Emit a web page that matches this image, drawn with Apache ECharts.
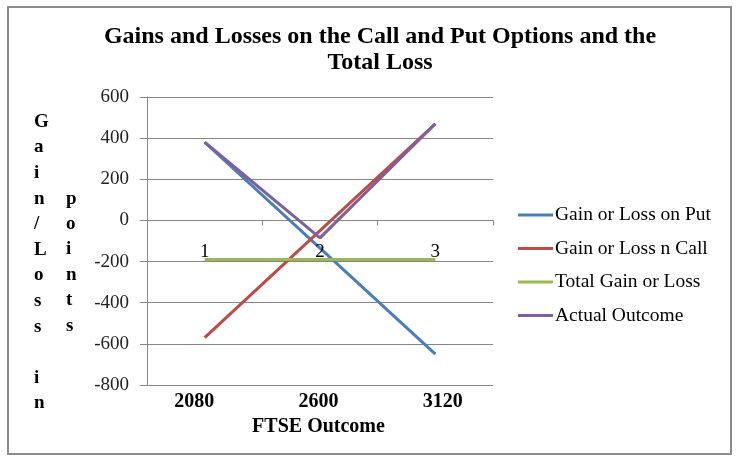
<!DOCTYPE html>
<html><head><meta charset="utf-8">
<script src="https://cdn.jsdelivr.net/npm/echarts@6/dist/echarts.min.js"></script>
<style>
html,body{margin:0;padding:0;background:#fff;}
#frame{position:absolute;left:7px;top:6px;width:725px;height:449px;border:2px solid #8c8c8c;box-sizing:border-box;}
#c{position:absolute;left:0;top:0;width:739px;height:462px;}
</style></head>
<body>
<div id="frame"></div>
<div id="c"></div>
<script>
var categories = ['2080', '2600', '3120'];
var putValues = [380, -135, -650];
var callValues = [-570, -50, 470];
var totalValues = [-190, -190, -190];
var actualValues = [380, -85, 470];
var totalPointLabels = ['1', '2', '3'];
var yTicks = {min: -800, max: 600, interval: 200};

var serif = '"Liberation Serif", "DejaVu Serif", serif';
var chart = echarts.init(document.getElementById('c'), null, {renderer: 'canvas'});
function ser(name, data, color, extra) {
  var s = {name: name, type: 'line', data: data, xAxisIndex: 0, yAxisIndex: 0,
    symbol: 'circle', symbolSize: 0, showSymbol: true,
    lineStyle: {color: color, width: 3}, itemStyle: {color: color}, z: 3, animation: false};
  return Object.assign(s, extra || {});
}
chart.setOption({
  animation: false,
  backgroundColor: 'transparent',
  title: {
    text: 'Gains and Losses on the Call and Put Options and the\nTotal Loss',
    left: 375, textAlign: 'center', top: 19,
    textStyle: {fontFamily: serif, fontSize: 24, fontWeight: 'bold', color: '#000', lineHeight: 26}
  },
  grid: [
    {left: 147, right: 246, top: 97, bottom: 77, containLabel: false},
    {left: 132, right: 234, top: 97, bottom: 77, containLabel: false}
  ],
  legend: {
    orient: 'vertical', left: 518, top: 205, padding: 0, itemWidth: 35, itemHeight: 3, itemGap: 13.5,
    icon: 'rect',
    textStyle: {fontFamily: serif, fontSize: 19.5, lineHeight: 19, color: '#000', padding: [0, 0, 0, -3]},
    data: ['Gain or Loss on Put', 'Gain or Loss n Call', 'Total Gain or Loss', 'Actual Outcome']
  },
  xAxis: [{
    gridIndex: 0, type: 'category', data: categories, boundaryGap: true,
    axisLine: {onZero: true, lineStyle: {color: '#868686', width: 1}},
    axisTick: {show: true, length: 5, inside: false, lineStyle: {color: '#868686'}},
    axisLabel: {show: false}, splitLine: {show: false}
  }, {
    gridIndex: 1, type: 'category', data: categories, boundaryGap: true, position: 'bottom',
    axisLine: {show: false, onZero: false}, axisTick: {show: false},
    axisLabel: {fontFamily: serif, fontSize: 20, fontWeight: 'bold', color: '#000', margin: 7},
    name: 'FTSE Outcome', nameLocation: 'middle', nameGap: 30,
    nameTextStyle: {fontFamily: serif, fontSize: 20, fontWeight: 'bold', color: '#000'}
  }],
  yAxis: [{
    gridIndex: 0, type: 'value', min: yTicks.min, max: yTicks.max, interval: yTicks.interval,
    axisLine: {show: true, lineStyle: {color: '#868686'}},
    axisTick: {show: true, length: 7, lineStyle: {color: '#868686'}},
    axisLabel: {fontFamily: serif, fontSize: 19, color: '#222', margin: 18},
    splitLine: {show: true, lineStyle: {color: '#868686', width: 1}}
  }, {
    gridIndex: 1, type: 'value', min: yTicks.min, max: yTicks.max, interval: yTicks.interval, show: false
  }],
  graphic: [
    {type: 'text', left: 34, top: 109, style: {text: 'G\na\ni\nn\n/\nL\no\ns\ns\n \ni\nn', font: 'bold 19px ' + serif, fill: '#000', lineHeight: 25.6, align: 'center'}},
    {type: 'text', left: 66, top: 186, style: {text: 'p\no\ni\nn\nt\ns', font: 'bold 19px ' + serif, fill: '#000', lineHeight: 25.4, align: 'center'}}
  ],
  series: [
    ser('Gain or Loss on Put', putValues, '#4A7EBB'),
    ser('Gain or Loss n Call', callValues, '#BE4B48'),
    ser('Total Gain or Loss', totalValues, '#98B954', {
      label: {show: true, position: 'top', distance: -2, fontFamily: serif, fontSize: 19, color: '#000',
        formatter: function (p) { return totalPointLabels[p.dataIndex]; }}
    }),
    ser('Actual Outcome', actualValues, '#7D60A0')
  ]
});
</script>
</body></html>
